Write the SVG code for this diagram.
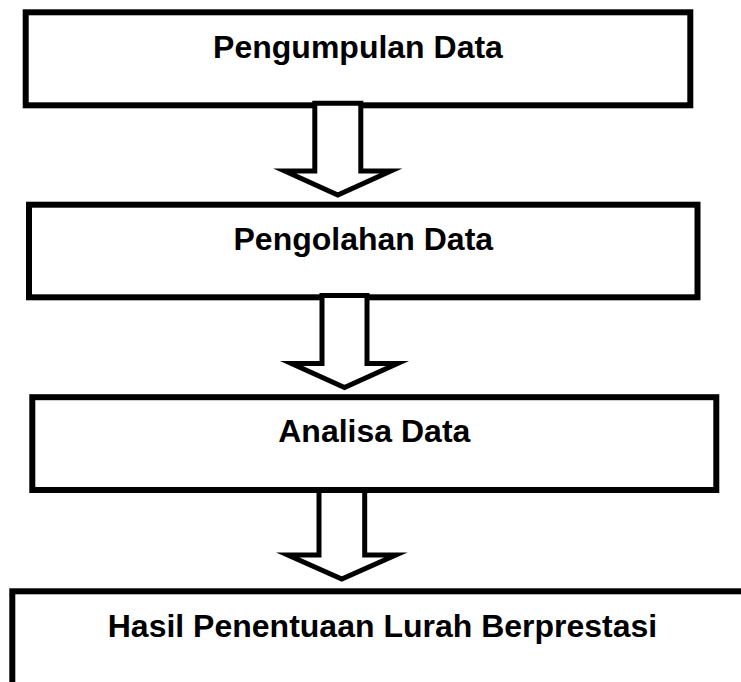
<svg xmlns="http://www.w3.org/2000/svg" width="741" height="682" viewBox="0 0 741 682">
  <style>
    .box { fill: #ffffff; stroke: #000000; stroke-width: 6; }
    .arrow { fill: #ffffff; stroke: #000000; stroke-width: 5; stroke-linejoin: miter; stroke-miterlimit: 10; }
    .label { font-family: "Liberation Sans", Arial, sans-serif; font-weight: bold; font-size: 32px; fill: #000000; text-anchor: middle; }
  </style>
  <rect x="0" y="0" width="741" height="682" fill="#ffffff"/>
  <g id="node-pengumpulan">
    <rect class="box" x="25.7" y="12.3" width="664.6" height="93"/>
    <text class="label" x="358" y="58">Pengumpulan Data</text>
  </g>
  <g id="node-pengolahan">
    <rect class="box" x="29" y="204.7" width="668.5" height="92.6"/>
    <text class="label" x="363.3" y="250">Pengolahan Data</text>
  </g>
  <g id="node-analisa">
    <rect class="box" x="32.3" y="397.2" width="684" height="92.8"/>
    <text class="label" x="374.3" y="442">Analisa Data</text>
  </g>
  <g id="node-hasil">
    <rect class="box" x="12.3" y="591.3" width="760" height="200"/>
    <text class="label" x="382.5" y="637">Hasil Penentuaan Lurah Berprestasi</text>
  </g>
  <g id="connectors">
    <path class="arrow" d="M314.8,103.2 L360.8,103.2 L360.8,171 L390.8,171 L337.8,195 L284.8,171 L314.8,171 Z"/>
    <path class="arrow" d="M322,295.5 L367,295.5 L367,363.5 L397.5,363.5 L344.5,387.5 L291.5,363.5 L322,363.5 Z"/>
    <path class="arrow" d="M364.7,493 L364.7,555 L395.8,555 L341.8,579 L287.8,555 L319,555 L319,493"/>
  </g>
</svg>
